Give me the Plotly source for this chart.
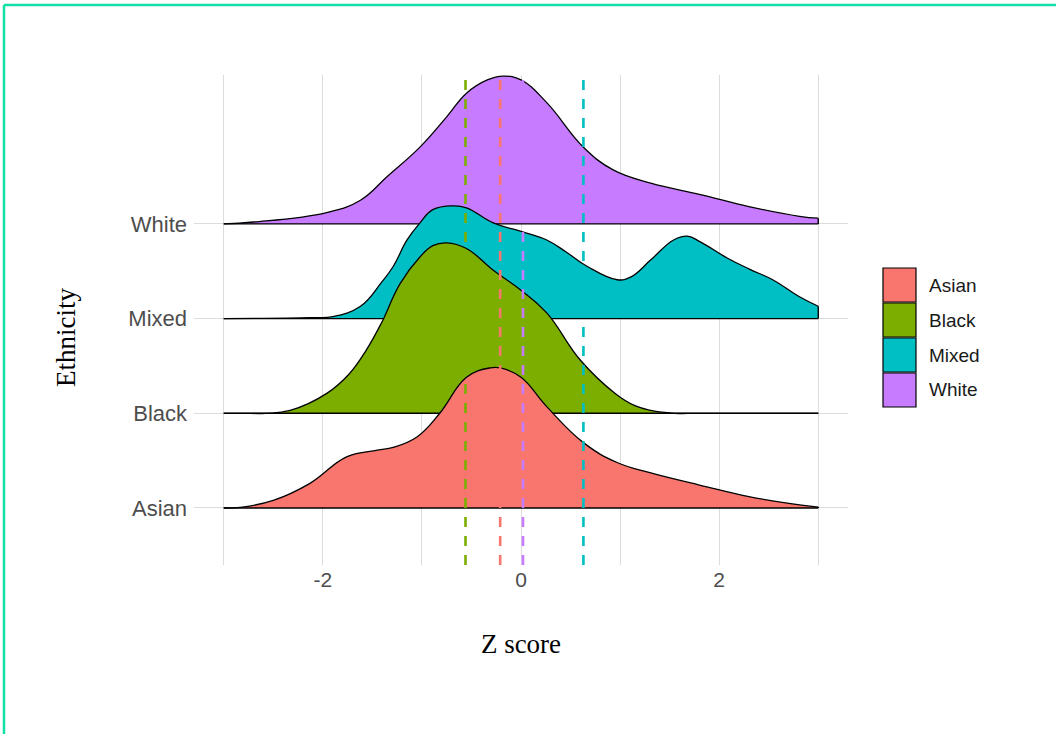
import plotly.graph_objects as go

# ---------------- data ----------------
categories = ["Asian", "Black", "Mixed", "White"]
colors = ["#F8766D", "#7CAE00", "#00BFC4", "#C77CFF"]
group_means = [-0.21, -0.56, 0.63, 0.02]  # dashed reference lines

asian_x = [-3.0, -2.81, -2.5, -2.13, -1.76, -1.45, -1.29, -1.05, -0.82, -0.55, -0.31,
           -0.21, 0.0, 0.26, 0.63, 0.97, 1.31, 1.81, 2.3, 2.83, 3.0]
asian_h = [0.0, 0.01, 0.08, 0.26, 0.54, 0.61, 0.64, 0.75, 1.00, 1.38, 1.48,
           1.48, 1.38, 1.07, 0.69, 0.48, 0.37, 0.24, 0.12, 0.03, 0.01]

black_x = [-3.0, -2.8, -2.58, -2.33, -1.96, -1.73, -1.56, -1.41, -1.22, -1.02, -0.89,
           -0.75, -0.55, -0.28, 0.0, 0.26, 0.6, 0.95, 1.15, 1.31, 1.55, 1.8, 3.0]
black_h = [0.0, 0.0, 0.0, 0.03, 0.21, 0.42, 0.67, 0.95, 1.37, 1.65, 1.77,
           1.80, 1.74, 1.51, 1.30, 1.06, 0.56, 0.21, 0.08, 0.03, 0.0, 0.0, 0.0]

mixed_x = [-3.0, -2.13, -1.9, -1.62, -1.41, -1.29, -1.15, -1.02, -0.89, -0.69, -0.55,
           -0.28, 0.0, 0.26, 0.46, 0.67, 0.97, 1.11, 1.31, 1.54, 1.68, 1.81, 2.08,
           2.31, 2.54, 2.81, 3.0]
mixed_h = [0.0, 0.01, 0.02, 0.13, 0.38, 0.55, 0.83, 1.01, 1.15, 1.19, 1.17,
           1.01, 0.92, 0.83, 0.70, 0.55, 0.41, 0.44, 0.62, 0.83, 0.87, 0.81, 0.64,
           0.52, 0.41, 0.23, 0.13]

white_x = [-3.0, -2.7, -1.96, -1.62, -1.35, -1.02, -0.75, -0.55, -0.34, -0.18, 0.0,
           0.26, 0.63, 0.93, 1.31, 1.81, 2.31, 2.81, 3.0]
white_h = [0.0, 0.02, 0.12, 0.25, 0.50, 0.81, 1.13, 1.38, 1.52, 1.56, 1.52,
           1.28, 0.81, 0.57, 0.43, 0.31, 0.18, 0.08, 0.06]

x_ticks = [-3, -2, -1, 0, 1, 2, 3]
x_ticktext = ["", "-2", "", "0", "", "2", ""]

series_x = [asian_x, black_x, mixed_x, white_x]
series_h = [asian_h, black_h, mixed_h, white_h]

# ---------------- layout geometry (pixels) ----------------
W, H = 1056, 734
L, R, T, B = 194, 848, 75, 565
PW, PH = R - L, B - T


def px(xp):
    return (xp - L) / PW


def py(yp):
    return (B - yp) / PH


fig = go.Figure()

# draw from top row to bottom row so lower ridges overlap upper ones
for i in [3, 2, 1, 0]:
    base = i + 1
    xs = series_x[i]
    ys = [base + h for h in series_h[i]]
    fig.add_trace(go.Scatter(x=[xs[0], xs[-1]], y=[base, base], mode="lines",
                             line=dict(color="black", width=1.4), showlegend=False,
                             hoverinfo="skip"))
    fig.add_trace(go.Scatter(x=xs, y=ys, mode="lines", fill="tonexty",
                             fillcolor=colors[i], name=categories[i],
                             line=dict(color="black", width=1.3, shape="spline",
                                       smoothing=1.2),
                             showlegend=False))
    # closing edge at the right end of the density
    fig.add_trace(go.Scatter(x=[xs[-1], xs[-1]], y=[base, ys[-1]], mode="lines",
                             line=dict(color="black", width=1.4), showlegend=False,
                             hoverinfo="skip"))

shapes = []
for m, c in zip(group_means, colors):
    shapes.append(dict(type="line", xref="x", yref="paper", x0=m, x1=m, y0=0, y1=1,
                       line=dict(color=c, width=2.6, dash="10px,9px"), layer="above"))

# legend (drawn as keys)
annotations = []
box_top = 268
box_size = 34
for k, (cat, col) in enumerate(zip(categories, colors)):
    y0 = box_top + k * (box_size + 1)
    shapes.append(dict(type="rect", xref="paper", yref="paper",
                       x0=px(883), x1=px(916), y0=py(y0 + box_size), y1=py(y0),
                       fillcolor=col, line=dict(color="black", width=1.2)))
    annotations.append(dict(text=cat, xref="paper", yref="paper", x=px(927),
                            y=py(y0 + box_size / 2), xanchor="left", yanchor="middle",
                            showarrow=False,
                            font=dict(family="Liberation Sans, Arial", size=19,
                                      color="#1A1A1A")))

# frame lines (top and left)
shapes.append(dict(type="line", xref="paper", yref="paper", x0=px(4), x1=px(1056),
                   y0=py(5), y1=py(5), line=dict(color="#12E0A6", width=2.5)))
shapes.append(dict(type="line", xref="paper", yref="paper", x0=px(4), x1=px(4),
                   y0=py(5), y1=py(734), line=dict(color="#12E0A6", width=2.5)))

annotations.append(dict(text="Ethnicity", xref="paper", yref="paper", x=px(66),
                        y=py(338), textangle=-90, showarrow=False,
                        xanchor="center", yanchor="middle",
                        font=dict(family="Liberation Serif, Times New Roman", size=27,
                                  color="black")))

fig.update_layout(
    width=W, height=H,
    margin=dict(l=L, r=W - R, t=T, b=H - B, pad=0),
    paper_bgcolor="white", plot_bgcolor="white",
    shapes=shapes, annotations=annotations,
    showlegend=False,
    xaxis=dict(range=[-3.3, 3.3], tickvals=x_ticks, ticktext=x_ticktext,
               showgrid=True, gridcolor="#DCDCDC", gridwidth=1.2, zeroline=False,
               showline=False, ticks="",
               tickfont=dict(family="Liberation Sans, Arial", size=21, color="#4D4D4D"),
               title=dict(text="Z score", standoff=44,
                          font=dict(family="Liberation Serif, Times New Roman",
                                    size=27, color="black"))),
    yaxis=dict(range=[0.398, 5.572], tickvals=[1, 2, 3, 4], ticktext=categories,
               showgrid=True, gridcolor="#DCDCDC", gridwidth=1.2, zeroline=False,
               showline=False, ticks="", ticklabelstandoff=6,
               tickfont=dict(family="Liberation Sans, Arial", size=22, color="#4D4D4D")),
)

fig.write_html("out.html")
